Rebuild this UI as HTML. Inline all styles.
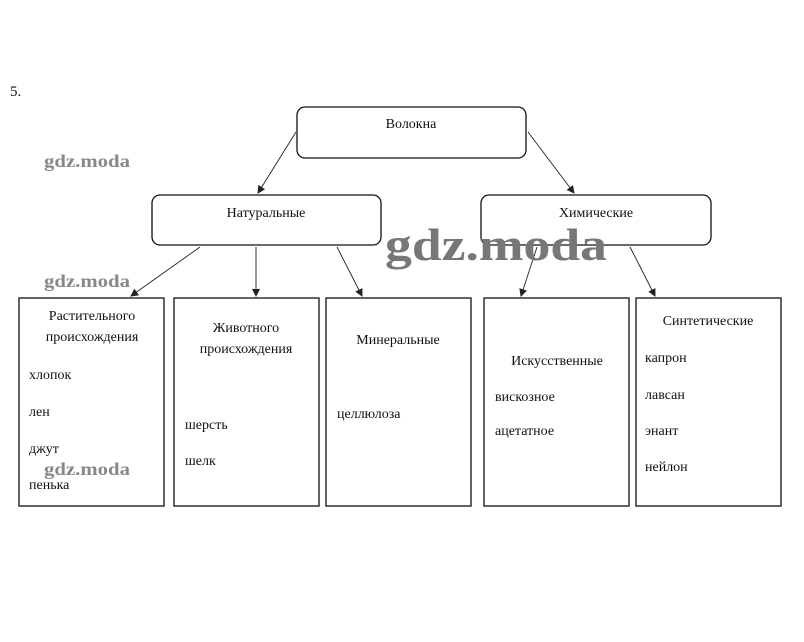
<!DOCTYPE html>
<html><head><meta charset="utf-8"><style>
html,body{margin:0;padding:0;background:#fff;}
svg{display:block;}
text{font-family:"Liberation Serif",serif;fill:#111;}
.wm{fill:#888;font-weight:bold;}
</style></head><body>
<svg width="804" height="642" viewBox="0 0 804 642" xmlns="http://www.w3.org/2000/svg">
<defs><marker id="a" markerWidth="8" markerHeight="8" refX="7" refY="4" orient="auto" markerUnits="userSpaceOnUse"><path d="M0,0 L8,4 L0,8 z" fill="#222"/></marker></defs>
<rect width="804" height="642" fill="#fff"/>
<text x="10" y="96" font-size="15">5.</text>
<g fill="none" stroke="#111" stroke-width="1.3">
<rect x="297" y="107" width="229" height="51" rx="8"/>
<rect x="152" y="195" width="229" height="50" rx="8"/>
<rect x="481" y="195" width="230" height="50" rx="8"/>
<rect x="19" y="298" width="145" height="208"/>
<rect x="174" y="298" width="145" height="208"/>
<rect x="326" y="298" width="145" height="208"/>
<rect x="484" y="298" width="145" height="208"/>
<rect x="636" y="298" width="145" height="208"/>
</g>
<g stroke="#222" stroke-width="0.9" marker-end="url(#a)">
<line x1="296" y1="132" x2="258" y2="193"/>
<line x1="528" y1="132" x2="574" y2="193"/>
<line x1="200" y1="247" x2="131" y2="296"/>
<line x1="256" y1="247" x2="256" y2="296"/>
<line x1="337" y1="247" x2="362" y2="296"/>
<line x1="537" y1="247" x2="521" y2="296"/>
<line x1="630" y1="247" x2="655" y2="296"/>
</g>
<g font-size="14">
<text x="411" y="128" text-anchor="middle">Волокна</text>
<text x="266" y="217" text-anchor="middle">Натуральные</text>
<text x="596" y="217" text-anchor="middle">Химические</text>
<text x="92" y="320" text-anchor="middle">Растительного</text>
<text x="92" y="341" text-anchor="middle">происхождения</text>
<text x="29" y="379">хлопок</text>
<text x="29" y="416">лен</text>
<text x="29" y="453">джут</text>
<text x="29" y="489">пенька</text>
<text x="246" y="332" text-anchor="middle">Животного</text>
<text x="246" y="353" text-anchor="middle">происхождения</text>
<text x="185" y="429">шерсть</text>
<text x="185" y="465">шелк</text>
<text x="398" y="344" text-anchor="middle">Минеральные</text>
<text x="337" y="418">целлюлоза</text>
<text x="557" y="365" text-anchor="middle">Искусственные</text>
<text x="495" y="401">вискозное</text>
<text x="495" y="435">ацетатное</text>
<text x="708" y="325" text-anchor="middle">Синтетические</text>
<text x="645" y="362">капрон</text>
<text x="645" y="399">лавсан</text>
<text x="645" y="435">энант</text>
<text x="645" y="471">нейлон</text>
</g>
<text class="wm" x="44" y="167" font-size="18" textLength="86" lengthAdjust="spacingAndGlyphs">gdz.moda</text>
<text class="wm" x="44" y="287" font-size="18" textLength="86" lengthAdjust="spacingAndGlyphs">gdz.moda</text>
<text class="wm" x="44" y="475" font-size="18" textLength="86" lengthAdjust="spacingAndGlyphs">gdz.moda</text>
<text class="wm" x="385" y="260" font-size="46" textLength="222" lengthAdjust="spacingAndGlyphs" style="fill:#777">gdz.moda</text>
</svg>
</body></html>
